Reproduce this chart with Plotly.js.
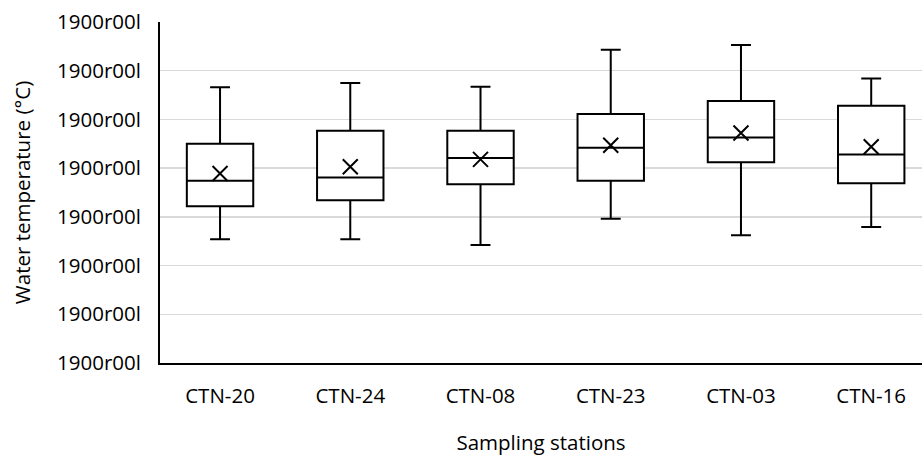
<!DOCTYPE html>
<html>
<head>
<meta charset="utf-8">
<script src="https://cdn.plot.ly/plotly-3.0.1.min.js"></script>
<style>html,body{margin:0;padding:0;background:#fff;}#chart{width:922px;height:456px;}</style>
</head>
<body>
<div id="chart"></div>
<script>
// Data (y in axis units, 0..7)
const stations = ["CTN-20", "CTN-24", "CTN-08", "CTN-23", "CTN-03", "CTN-16"];
const lowerWhisker = [2.54, 2.54, 2.42, 2.96, 2.62, 2.79];
const q1Values = [3.22, 3.34, 3.67, 3.74, 4.12, 3.69];
const medianValues = [3.74, 3.81, 4.21, 4.42, 4.63, 4.28];
const q3Values = [4.50, 4.77, 4.77, 5.11, 5.38, 5.28];
const upperWhisker = [5.66, 5.75, 5.67, 6.43, 6.53, 5.84];
const meanValues = [3.89, 4.03, 4.18, 4.47, 4.72, 4.44];
const yTickVals = [0, 1, 2, 3, 4, 5, 6, 7];
const yTickText = ["1900r00l", "1900r00l", "1900r00l", "1900r00l", "1900r00l", "1900r00l", "1900r00l", "1900r00l"];

const font = "'Open Sans', sans-serif";
const fs = 20.5;

const boxTrace = {
  type: "box",
  x: stations,
  q1: q1Values,
  median: medianValues,
  q3: q3Values,
  lowerfence: lowerWhisker,
  upperfence: upperWhisker,
  boxpoints: false,
  fillcolor: "#ffffff",
  line: { color: "#000000", width: 2 },
  width: 0.51,
  whiskerwidth: 0.3,
  hoverinfo: "skip",
  showlegend: false
};

const meanTrace = {
  type: "scatter",
  mode: "markers",
  x: stations,
  y: meanValues,
  marker: { symbol: "x-thin", size: 15, color: "#000000", line: { color: "#000000", width: 2 } },
  hoverinfo: "skip",
  showlegend: false
};

const layout = {
  width: 922,
  height: 456,
  margin: { l: 160, r: 0, t: 22, b: 93 },
  paper_bgcolor: "#ffffff",
  plot_bgcolor: "#ffffff",
  font: { family: font, size: fs, color: "#000000" },
  xaxis: {
    type: "category",
    range: [-0.461, 5.39],
    showgrid: false,
    zeroline: false,
    showline: true,
    linecolor: "#000000",
    linewidth: 2,
    ticks: "",
    ticklabelstandoff: 13,
    tickfont: { family: font, size: fs, color: "#000000" },
    title: { text: "Sampling stations", font: { family: font, size: fs, color: "#000000" }, standoff: 32 },
    fixedrange: true
  },
  yaxis: {
    range: [0, 7],
    tickvals: yTickVals,
    ticktext: yTickText,
    showgrid: true,
    gridcolor: "#d9d9d9",
    gridwidth: 1.5,
    zeroline: false,
    showline: true,
    linecolor: "#000000",
    linewidth: 2,
    ticks: "",
    ticklabelstandoff: 13,
    tickfont: { family: font, size: fs, color: "#000000" },
    title: { text: "Water temperature (°C)", font: { family: font, size: fs, color: "#000000" }, standoff: 21 },
    fixedrange: true
  }
};

Plotly.newPlot("chart", [boxTrace, meanTrace], layout, { displayModeBar: false, staticPlot: true });
</script>
</body>
</html>
